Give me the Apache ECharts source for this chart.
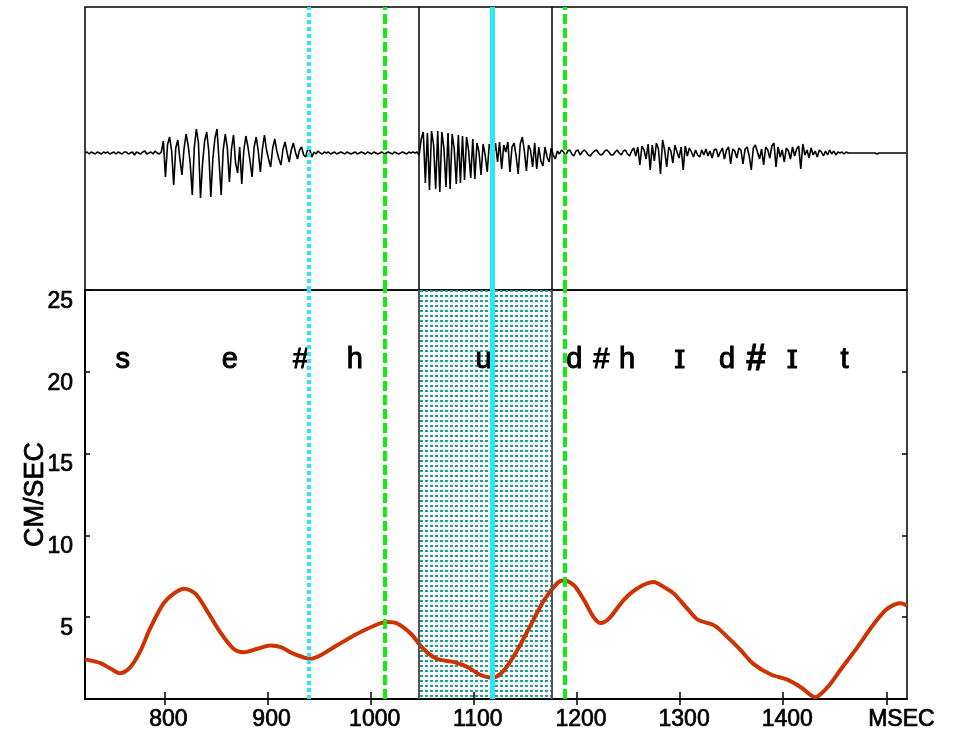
<!DOCTYPE html>
<html><head><meta charset="utf-8">
<script src="https://cdn.jsdelivr.net/npm/echarts@6/dist/echarts.min.js"></script>
<style>html,body{margin:0;padding:0;background:#fff}#c{width:958px;height:735px}</style>
</head><body><div id="c"></div>
<script>
// ---- data ----
const xTickValues = [800, 900, 1000, 1100, 1200, 1300, 1400, 1500];
const xTickLabels = ['800', '900', '1000', '1100', '1200', '1300', '1400', 'MSEC'];
const yTickValues = [5, 10, 15, 20, 25];
const yTickLabels = ['5', '10', '15', '20', '25'];

// velocity curve (CM/SEC vs MSEC)
const velTime = [723,738,748,757,767,777,786,799,809,819,830,841,854,867,877,890,903,913,925,942,
  951,967,987,1008,1016,1026,1039,1051,1064,1081,1094,1106,1118,1129,1142,1155,1168,1181,1187,1197,
  1207,1216,1223,1231,1245,1258,1274,1287,1294,1307,1317,1333,1346,1359,1371,1388,1404,1417,1431,1443,
  1455,1472,1488,1501,1514,1520];
const velValue = [2.42,2.19,1.85,1.58,1.95,2.97,4.30,5.83,6.44,6.74,6.44,5.42,4.09,3.07,2.86,3.07,3.27,3.17,2.77,2.46,
  2.66,3.27,3.99,4.60,4.70,4.60,3.99,3.07,2.46,2.25,1.95,1.48,1.30,1.74,2.97,4.50,6.03,7.09,7.25,6.95,
  6.03,5.01,4.64,4.91,6.03,6.74,7.15,6.74,6.44,5.52,4.85,4.50,3.78,2.97,2.15,1.50,1.18,0.72,0.11,0.72,
  1.74,3.17,4.60,5.52,5.86,5.72];

// speech waveform samples (sampled every waveStep ms from waveStart)
const waveStart = 723;
const waveStep = 2;
const waveAmp = [
  0,1,-1,1,0,-1,1,0,-1,1,0,1,-1,0,1,-1,1,0,-1,1,
  1,-1,0,1,-2,1,0,-1,1,2,-1,0,1,-1,2,0,-1,1,12,-24,
  8,16,2,-32,5,13,-6,-22,4,19,8,-10,-42,6,24,10,-45,-10,12,21,
  2,-44,-5,15,24,-8,-42,3,19,5,-29,4,18,-10,-20,6,-31,3,17,6,
  -8,-24,6,16,2,-19,4,18,3,-6,-14,5,14,2,-6,-12,4,11,0,-9,
  3,10,1,-6,3,6,-2,-4,4,3,-4,1,-1,2,0,-1,1,0,1,-1,
  0,1,-1,0,1,0,-1,1,0,-1,0,1,-1,0,1,0,-1,1,0,-1,
  1,0,-1,0,1,-1,0,1,0,-1,1,0,-1,0,1,0,-1,1,0,1,
  0,1,-2,14,21,-30,20,-37,22,8,-36,22,-39,21,5,-34,20,-36,19,4,
  -31,18,-30,17,-27,16,2,-25,14,-26,10,1,-22,9,-2,-19,9,3,-4,10,
  -9,11,-16,8,1,11,-19,6,10,-3,-21,9,16,2,-18,8,3,-14,10,-16,
  6,-8,-13,6,-4,-9,5,-2,-6,2,-1,3,1,-3,2,3,-1,-3,2,3,
  -2,1,3,1,-2,-3,0,2,3,0,-2,-1,2,3,1,-2,-2,1,3,0,
  -2,2,3,-1,-3,2,5,-3,6,-12,7,3,-6,9,-17,8,-8,10,4,-21,
  13,3,-14,6,2,-10,8,1,-5,6,-17,7,-3,5,1,-4,3,-2,-4,3,
  -2,4,-3,2,-5,3,4,-4,1,5,-6,3,6,-11,4,2,-5,5,3,-11,
  4,6,-3,-17,5,8,1,-6,4,-12,6,3,-5,7,10,-14,6,-4,3,-9,
  5,2,-6,6,-3,4,7,-16,9,-2,3,-5,5,-2,2,-4,3,1,-3,2,
  -2,3,-1,2,-2,1,0,1,-1,1,0,0,0,0,0,0,0,0,0,0,
  0,0,0,0,-1,0,0,0,0,0,0,0,0,0,0,0,0,0,0
];

// vertical event markers (MSEC)
const cyanDottedAt = [940];
const greenDashedAt = [1013.5, 1188];
const cyanSolidAt = [1118];
const boxSpan = [1047, 1176];

// phonetic transcription
const phoneText = ['s','e','#','h','u','d','#','h','ɪ','d','#','ɪ','t'];
const phoneTime = [760,864,933,985,1110,1198,1224,1249,1300,1346,1374,1409,1460];
const phoneLevel = 20.7;

// ---- chart ----
const FONT = "'Liberation Sans', Arial, sans-serif";
const CYAN = '#2ae8f4', GREEN = '#12ec12', RED = '#cc3300';
const waveData = waveAmp.map((a, i) => [waveStart + i * waveStep, a]);
const velData = velTime.map((t, i) => [t, velValue[i]]);

const pc = document.createElement('canvas');
pc.width = 5; pc.height = 5;
const g = pc.getContext('2d');
g.fillStyle = '#1e9c9c';
g.fillRect(0, 0, 3, 2);

function vLines(boxColor, boxWidth) {
  const d = [];
  cyanDottedAt.forEach(t => d.push({xAxis: t, lineStyle: {color: CYAN, width: 4, type: [4, 3]}}));
  greenDashedAt.forEach(t => d.push({xAxis: t, lineStyle: {color: GREEN, width: 4, type: [10, 4]}}));
  boxSpan.forEach(t => d.push({xAxis: t, lineStyle: {color: boxColor, width: boxWidth, type: 'solid'}}));
  cyanSolidAt.forEach(t => d.push({xAxis: t, lineStyle: {color: CYAN, width: 5, type: 'solid'}}));
  return {silent: true, symbol: 'none', label: {show: false}, animation: false, data: d};
}

const txt = {color: '#000', fontFamily: FONT, textBorderColor: '#000', textBorderWidth: 0.7};
const tickStyle = {color: '#000', width: 1.5};
const chart = echarts.init(document.getElementById('c'));
chart.setOption({
  animation: false,
  backgroundColor: '#fff',
  grid: [
    {left: 85, right: 51, top: 7, height: 283, show: true, borderColor: '#000', borderWidth: 1.5, backgroundColor: '#fff'},
    {left: 85, right: 51, top: 290, height: 409, show: true, borderColor: '#000', borderWidth: 1.5}
  ],
  xAxis: [
    {gridIndex: 0, type: 'value', min: 723, max: 1520, show: false},
    {gridIndex: 1, type: 'value', min: 723, max: 1520, position: 'bottom',
      axisLine: {show: true, onZero: false, lineStyle: {color: '#000', width: 2}},
      axisTick: {show: true, inside: true, length: 7, customValues: xTickValues, lineStyle: tickStyle},
      axisLabel: {customValues: xTickValues, margin: 9, fontSize: 23, ...txt,
        formatter: v => {
          const s = xTickLabels[xTickValues.indexOf(v)];
          return /\d/.test(s) ? '{n|' + s + '}' : '{m|' + s + '}';
        },
        rich: {n: {fontSize: 23, ...txt, padding: [0, 0, 0, 8]},
               m: {fontSize: 23, ...txt, padding: [0, 0, 0, 30]}}},
      splitLine: {show: false}},
    {gridIndex: 1, type: 'value', min: 723, max: 1520, position: 'top',
      axisLine: {show: false},
      axisTick: {show: true, inside: true, length: 6, customValues: xTickValues, lineStyle: tickStyle},
      axisLabel: {show: false}, splitLine: {show: false}}
  ],
  yAxis: [
    {gridIndex: 0, type: 'value', min: -137, max: 146, show: false},
    {gridIndex: 1, type: 'value', min: 0, max: 25, interval: 5, position: 'left',
      name: 'CM/SEC', nameLocation: 'middle', nameGap: 36, nameRotate: 90, nameMoveOverlap: false,
      nameTextStyle: {fontSize: 27, ...txt},
      axisLine: {show: true, onZero: false, lineStyle: {color: '#000', width: 2}},
      axisTick: {show: true, inside: true, length: 5, lineStyle: tickStyle},
      axisLabel: {fontSize: 23, ...txt, margin: 12, verticalAlign: 'top',
        formatter: v => { const i = yTickValues.indexOf(v); return i < 0 ? '' : yTickLabels[i]; }},
      splitLine: {show: false}},
    {gridIndex: 1, type: 'value', min: 0, max: 25, interval: 5, position: 'right',
      axisLine: {show: false},
      axisTick: {show: true, inside: true, length: 5, lineStyle: tickStyle},
      axisLabel: {show: false}, splitLine: {show: false}}
  ],
  series: [
    {type: 'line', xAxisIndex: 0, yAxisIndex: 0, data: waveData, symbol: 'none',
      lineStyle: {color: '#000', width: 1.6}, z: 2,
      markLine: vLines('#000', 1.5)},
    {type: 'line', xAxisIndex: 1, yAxisIndex: 1, data: velData, symbol: 'none', smooth: 0.3,
      lineStyle: {color: RED, width: 4}, z: 3,
      markArea: {silent: true, itemStyle: {color: {image: pc, repeat: 'repeat'}},
        data: [[{xAxis: boxSpan[0]}, {xAxis: boxSpan[1]}]]},
      markLine: vLines('#555', 2)},
    {type: 'scatter', xAxisIndex: 1, yAxisIndex: 1, symbol: 'circle', symbolSize: 1, z: 4, silent: true,
      itemStyle: {color: '#fff', opacity: 0},
      data: phoneText.map((s, i) => {
        const serif = s === 'ɪ';
        const big = i === 10;
        return {value: [phoneTime[i], phoneLevel],
          label: {show: true, position: [0, 0], align: 'center', verticalAlign: 'middle',
            formatter: s, color: '#000', opacity: 1,
            textBorderColor: '#000', textBorderWidth: big ? 0.8 : 1,
            fontFamily: serif ? "'DejaVu Serif', 'Liberation Serif', serif" : FONT,
            fontSize: big ? 36 : (serif ? 33 : 29), fontWeight: big ? 'bold' : 'normal'}};
      })}
  ]
});
</script></body></html>
